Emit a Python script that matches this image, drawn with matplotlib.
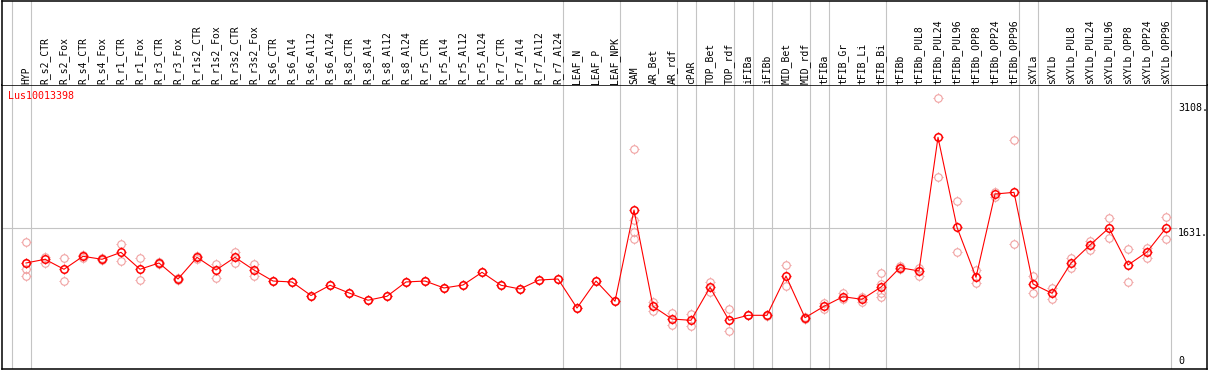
import matplotlib
matplotlib.use("Agg")
import matplotlib.pyplot as plt
from matplotlib.path import Path

# column groups (grey separators fall between groups)
groups = [
    ["HYP"],
    ["R_s2_CTR", "R_s2_Fox", "R_s4_CTR", "R_s4_Fox", "R_r1_CTR", "R_r1_Fox",
     "R_r3_CTR", "R_r3_Fox", "R_r1s2_CTR", "R_r1s2_Fox", "R_r3s2_CTR", "R_r3s2_Fox",
     "R_s6_CTR", "R_s6_Al4", "R_s6_Al12", "R_s6_Al24", "R_s8_CTR", "R_s8_Al4",
     "R_s8_Al12", "R_s8_Al24", "R_r5_CTR", "R_r5_Al4", "R_r5_Al12", "R_r5_Al24",
     "R_r7_CTR", "R_r7_Al4", "R_r7_Al12", "R_r7_Al24"],
    ["LEAF_N", "LEAF_P", "LEAF_NPK"],
    ["SAM", "AR_Bet", "AR_rdf"],
    ["cPAR"],
    ["TOP_Bet", "TOP_rdf"],
    ["iFIBa"],
    ["iFIBb"],
    ["MID_Bet", "MID_rdf"],
    ["tFIBa"],
    ["tFIB_Gr", "tFIB_Li", "tFIB_Bi"],
    ["tFIBb", "tFIBb_PUL8", "tFIBb_PUL24", "tFIBb_PUL96", "tFIBb_OPP8",
     "tFIBb_OPP24", "tFIBb_OPP96"],
    ["sXYLa"],
    ["sXYLb", "sXYLb_PUL8", "sXYLb_PUL24", "sXYLb_PUL96", "sXYLb_OPP8",
     "sXYLb_OPP24", "sXYLb_OPP96"],
]
labels = [name for g in groups for name in g]

means = [1217, 1261, 1143, 1296, 1261, 1343, 1143, 1217, 1028, 1284, 1134, 1284,
         1134, 1004, 993, 833, 954, 863, 777, 824, 993, 1004, 922, 957, 1107, 954,
         910, 1016, 1028, 685, 1004, 765, 1843, 705, 555, 540, 930, 540, 599, 599,
         1063, 571, 705, 819, 788, 933, 1162, 1123, 2702, 1639, 1048, 2032, 2052,
         969, 859, 1217, 1430, 1631, 1193, 1347, 1631]

replicates = [
    [1462, 1217, 1146, 1060], [1292, 1221], [1273, 1001], [1280, 1310], [1250, 1272],
    [1442, 1244], [1273, 1020], [1205, 1229], [1015, 1040], [1270, 1298],
    [1205, 1043], [1347, 1221], [1205, 1067], [1004], [993], [833], [954], [863],
    [777], [824], [993], [1004], [922], [957], [1107], [954], [910], [1016], [1028],
    [685], [1004], [765],
    [2564, 1725, 1583, 1497], [760, 653], [623, 481], [614, 476], [993, 874],
    [670, 414], [597, 603], [590, 608], [1190, 942], [560, 582], [748, 674],
    [859, 788], [812, 756], [1095, 859, 812, 966], [1182, 1143], [1158, 1067],
    [3163, 2230], [1946, 1343], [1134, 977], [2060, 2000], [2667, 1438],
    [1063, 859], [918, 792], [1280, 1154], [1481, 1374], [1746, 1509],
    [1380, 989], [1400, 1282], [1757, 1497],
]

gene = "Lus10013398"
y_ticks = [3108, 1631, 0]
y_tick_text = ["3108.", "1631.", "0"]

W, H = 1209, 370
RED = "#ff0000"
PINK = "#f0a0a0"
GREY = "#c4c4c4"
MONO = "DejaVu Sans Mono"


def px_x(px):
    return (px - 26) / 19.0


def px_v(py):
    return (366 - py) / 0.08463


# little ticks sticking out of each circle, like the original marker
ticks = Path([(0.7, 0), (1, 0), (-0.7, 0), (-1, 0), (0, 0.7), (0, 1), (0, -0.7), (0, -1)],
             [Path.MOVETO, Path.LINETO] * 4)
CIRC = 5.4
TICK = CIRC * 1.42


def draw_marks(x, y, color, mew, z):
    ax.plot(x, y, linestyle="none", marker="o", ms=CIRC, mfc="none",
            mec=color, mew=mew, zorder=z)
    ax.plot(x, y, linestyle="none", marker=ticks, ms=TICK, mfc="none",
            mec=color, mew=mew * 0.9, zorder=z)


fig = plt.figure(figsize=(W / 100, H / 100), dpi=100)
ax = fig.add_axes([1.5 / W, 1 - 369 / H, (1207 - 1.5) / W, (369 - 85) / H])
hx = fig.add_axes([1.5 / W, 1 - 85 / H, (1207 - 1.5) / W, 84.5 / H])

for a in (ax, hx):
    a.set_xlim(px_x(1.5), px_x(1207))
    a.set_xticks([])
    a.set_yticks([])
    for s in a.spines.values():
        s.set_linewidth(1.1)
        s.set_color("black")
ax.set_ylim(px_v(369), px_v(85))
hx.set_ylim(85, 0.5)
hx.spines["bottom"].set_visible(False)

# group separators
seps = [-1]
for g in groups:
    seps.append(seps[-1] + len(g))
for c in seps:
    ax.axvline(c + 0.25, color=GREY, lw=0.8, zorder=1)
    hx.axvline(c + 0.25, color=GREY, lw=0.8, zorder=1)

ax.hlines(1631, px_x(1.5), px_x(1177), color=GREY, lw=0.8, zorder=1)

xs = list(range(len(labels)))
for i, reps in enumerate(replicates):
    draw_marks([i] * len(reps), reps, PINK, 0.8, 2)
ax.plot(xs, means, color=RED, lw=0.8, zorder=3)
draw_marks(xs, means, RED, 1.1, 4)

for i, name in enumerate(labels):
    hx.text(i, 83.5, name, rotation=90, ha="center", va="bottom",
            family=MONO, fontsize=7)

ax.text(px_x(8), px_v(91), gene, color=RED, family=MONO, fontsize=7.2,
        ha="left", va="top")

for v, t in zip(y_ticks, y_tick_text):
    if v == 0:
        ax.text(px_x(1178), v, t, family=MONO, fontsize=7.2, ha="left", va="bottom")
    else:
        ax.text(px_x(1178), v, t, family=MONO, fontsize=7.2, ha="left", va="top")

fig.savefig("out.png", dpi=100)
